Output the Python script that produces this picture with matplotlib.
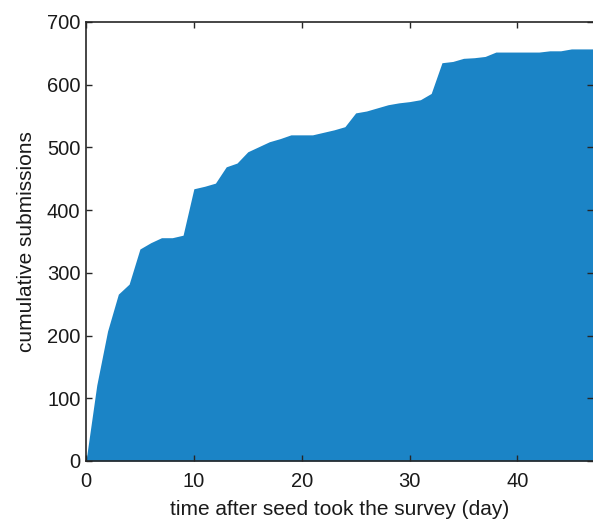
import numpy as np
import matplotlib.pyplot as plt

plt.rcParams['font.family'] = ['Liberation Sans', 'DejaVu Sans']

# cumulative submissions per day after the seed took the survey
days = list(range(0, 48))
submissions = [0, 121, 207, 266, 282, 338, 348, 356, 356, 360,
               434, 438, 443, 469, 475, 493, 501, 509, 514, 520,
               520, 520, 524, 528, 533, 555, 558, 563, 568, 571,
               573, 576, 586, 635, 637, 642, 643, 645, 652, 652,
               652, 652, 652, 654, 654, 657, 657, 657]

fig = plt.figure(figsize=(5.93, 5.19), dpi=100)
ax = fig.add_axes([0.145, 0.1118, 0.855, 0.8459])

ax.fill_between(days, submissions, 0, color='#1b84c6', lw=0)

ax.set_xlim(0, 47)
ax.set_ylim(0, 700)
ax.set_xticks([0, 10, 20, 30, 40])
ax.set_yticks(range(0, 701, 100))
ax.tick_params(direction='in', top=True, right=True, length=4, width=1,
               colors='#262626', labelsize=14.5, labelcolor='#1a1a1a', pad=4)
ax.tick_params(axis='x', pad=8)
for s in ax.spines.values():
    s.set_color('#262626')
    s.set_linewidth(1.2)
ax.spines['right'].set_visible(False)
ax.set_axisbelow(False)

ax.set_xlabel('time after seed took the survey (day)', fontsize=15,
              color='#1a1a1a', labelpad=6.5)
ax.set_ylabel('cumulative submissions', fontsize=15, color='#1a1a1a',
              labelpad=8)

plt.savefig('out.png')
